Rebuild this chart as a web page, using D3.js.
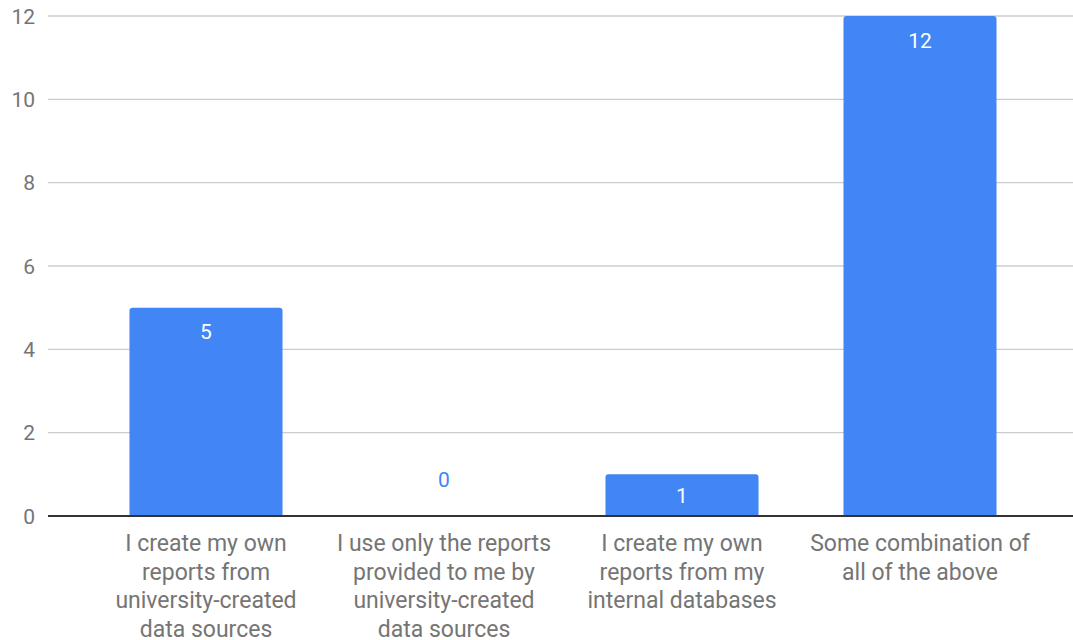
<!DOCTYPE html>
<html><head><meta charset="utf-8">
<script src="https://cdn.jsdelivr.net/npm/d3@7"></script>
<style>body{margin:0;background:#fff}svg{display:block}</style>
</head><body>
<svg id="c" width="1073" height="640"></svg>
<script>
const categories = [
  ["I create my own","reports from","university-created","data sources"],
  ["I use only the reports","provided to me by","university-created","data sources"],
  ["I create my own","reports from my","internal databases"],
  ["Some combination of","all of the above"]
];
const values = [5, 0, 1, 12];
const yTicks = [0, 2, 4, 6, 8, 10, 12];

const svg = d3.select("#c");
const font = "Roboto, sans-serif";
const x = d3.scaleBand().domain(d3.range(categories.length)).range([87, 1039]).paddingInner(0.357).paddingOuter(0.1785);
const y = d3.scaleLinear().domain([0, 12]).range([516, 16]);

svg.append("g").selectAll("line").data(yTicks.filter(d => d !== 0)).join("line")
  .attr("x1", 48).attr("x2", 1073).attr("y1", d => y(d)).attr("y2", d => y(d))
  .attr("stroke", "#cccccc").attr("stroke-width", 1.3);

svg.append("g").selectAll("text").data(yTicks).join("text")
  .attr("x", 35).attr("y", d => y(d)).attr("dy", "0.36em")
  .attr("text-anchor", "end").attr("font-family", font).attr("font-size", 21)
  .attr("fill", "#757575").text(d => d);

const r = 3;
svg.append("g").selectAll("path").data(values).join("path")
  .attr("fill", "#4285f4")
  .attr("d", (d, i) => {
    const x0 = x(i), w = x.bandwidth(), y0 = y(d), y1 = y(0);
    if (d === 0) return "";
    return `M${x0},${y1}V${y0 + r}Q${x0},${y0} ${x0 + r},${y0}H${x0 + w - r}Q${x0 + w},${y0} ${x0 + w},${y0 + r}V${y1}Z`;
  });

svg.append("line").attr("x1", 48).attr("x2", 1073).attr("y1", y(0)).attr("y2", y(0))
  .attr("stroke", "#333333").attr("stroke-width", 2);

svg.append("g").selectAll("text").data(values).join("text")
  .attr("x", (d, i) => x(i) + x.bandwidth() / 2)
  .attr("y", d => d === 0 ? y(0) - 37 : y(d) + Math.min(24, (y(0) - y(d)) / 2))
  .attr("dy", "0.36em")
  .attr("text-anchor", "middle").attr("font-family", font).attr("font-size", 21)
  .attr("fill", d => d === 0 ? "#4285f4" : "#ffffff").text(d => d);

const cg = svg.append("g").selectAll("text").data(categories).join("text")
  .attr("text-anchor", "middle").attr("font-family", font).attr("font-size", 23)
  .attr("fill", "#757575");
cg.each(function(lines, i) {
  d3.select(this).selectAll("tspan").data(lines).join("tspan")
    .attr("x", x(i) + x.bandwidth() / 2)
    .attr("y", (l, j) => 543 + j * 28.5)
    .attr("dy", "0.36em")
    .text(l => l);
});
</script>
</body></html>
